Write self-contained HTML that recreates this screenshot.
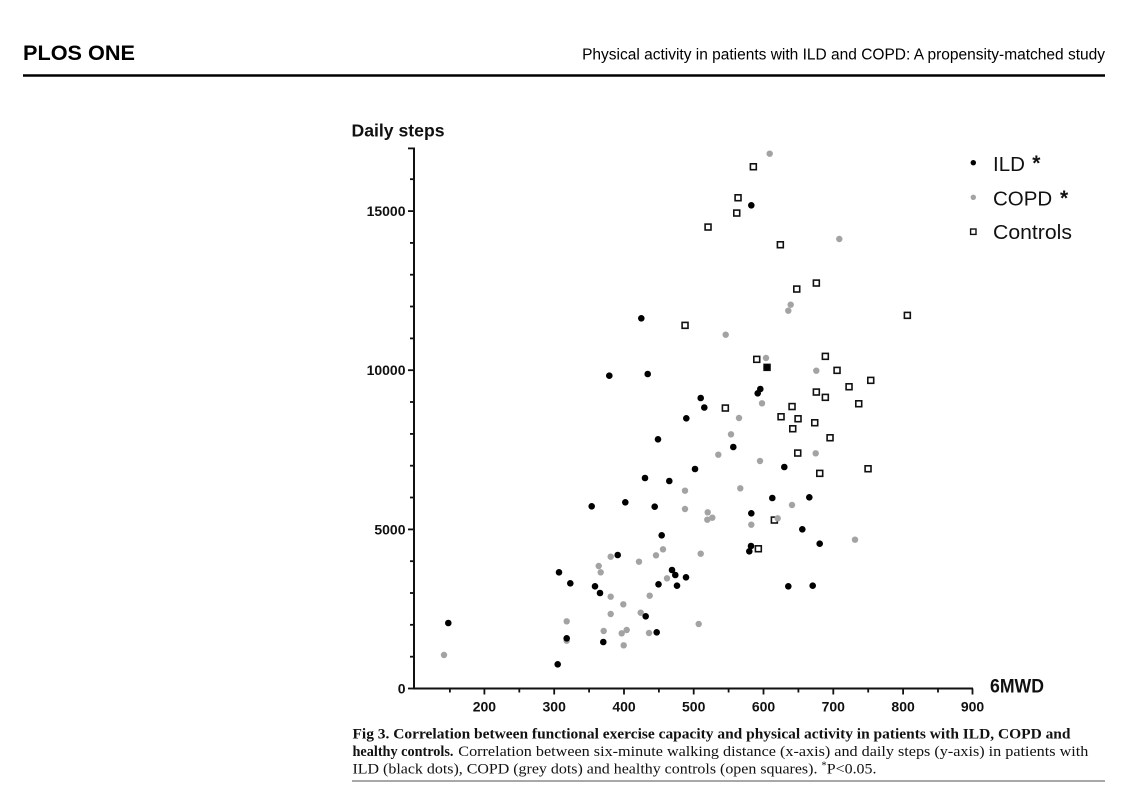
<!DOCTYPE html>
<html>
<head>
<meta charset="utf-8">
<style>
html,body{margin:0;padding:0;background:#fff;}
svg{display:block;}
text{font-family:"Liberation Sans",Arial,sans-serif;}
.serif{font-family:"Liberation Serif","Times New Roman",serif;}
</style>
</head>
<body>
<svg width="1140" height="789" viewBox="0 0 1140 789" xmlns="http://www.w3.org/2000/svg">
<rect width="1140" height="789" fill="#fff"/>

<!-- Header -->
<text x="23" y="60" font-size="21" font-weight="bold" fill="#000" textLength="112" lengthAdjust="spacingAndGlyphs">PLOS ONE</text>
<text x="1105" y="59.3" font-size="15.5" fill="#000" text-anchor="end">Physical activity in patients with ILD and COPD: A propensity-matched study</text>
<line x1="23" y1="75.5" x2="1105" y2="75.5" stroke="#000" stroke-width="2.5"/>

<!-- Axis titles -->
<text x="351.5" y="136.7" font-size="17.5" font-weight="bold" fill="#111" textLength="93" lengthAdjust="spacingAndGlyphs">Daily steps</text>
<text x="990" y="692.7" font-size="19" font-weight="bold" fill="#111" textLength="54" lengthAdjust="spacingAndGlyphs">6MWD</text>

<!-- Y axis -->
<g stroke="#111" stroke-width="2" fill="none">
<line x1="414" y1="147.5" x2="414" y2="689.5"/>
<line x1="413" y1="688.5" x2="973" y2="688.5"/>
</g>
<g stroke="#111" stroke-width="1.8">
<!-- y ticks every 1000 -->
<line x1="408" y1="688.5" x2="414" y2="688.5"/>
<line x1="410" y1="656.7" x2="414" y2="656.7"/>
<line x1="410" y1="624.8" x2="414" y2="624.8"/>
<line x1="410" y1="593.0" x2="414" y2="593.0"/>
<line x1="410" y1="561.2" x2="414" y2="561.2"/>
<line x1="408" y1="529.4" x2="414" y2="529.4"/>
<line x1="410" y1="497.5" x2="414" y2="497.5"/>
<line x1="410" y1="465.7" x2="414" y2="465.7"/>
<line x1="410" y1="433.9" x2="414" y2="433.9"/>
<line x1="410" y1="402.0" x2="414" y2="402.0"/>
<line x1="408" y1="370.2" x2="414" y2="370.2"/>
<line x1="410" y1="338.4" x2="414" y2="338.4"/>
<line x1="410" y1="306.5" x2="414" y2="306.5"/>
<line x1="410" y1="274.7" x2="414" y2="274.7"/>
<line x1="410" y1="242.9" x2="414" y2="242.9"/>
<line x1="408" y1="211.1" x2="414" y2="211.1"/>
<line x1="410" y1="179.2" x2="414" y2="179.2"/>
<line x1="408" y1="148.4" x2="414" y2="148.4"/>
<!-- x ticks every 50 -->
<line x1="449.9" y1="688.5" x2="449.9" y2="692.5"/>
<line x1="484.4" y1="688.5" x2="484.4" y2="694.5"/>
<line x1="519.3" y1="688.5" x2="519.3" y2="692.5"/>
<line x1="554.2" y1="688.5" x2="554.2" y2="694.5"/>
<line x1="589.1" y1="688.5" x2="589.1" y2="692.5"/>
<line x1="624.0" y1="688.5" x2="624.0" y2="694.5"/>
<line x1="658.9" y1="688.5" x2="658.9" y2="692.5"/>
<line x1="693.7" y1="688.5" x2="693.7" y2="694.5"/>
<line x1="728.6" y1="688.5" x2="728.6" y2="692.5"/>
<line x1="763.5" y1="688.5" x2="763.5" y2="694.5"/>
<line x1="798.4" y1="688.5" x2="798.4" y2="692.5"/>
<line x1="833.3" y1="688.5" x2="833.3" y2="694.5"/>
<line x1="868.2" y1="688.5" x2="868.2" y2="692.5"/>
<line x1="903.1" y1="688.5" x2="903.1" y2="694.5"/>
<line x1="938.0" y1="688.5" x2="938.0" y2="692.5"/>
<line x1="972.5" y1="688.5" x2="972.5" y2="694.5"/>
</g>

<!-- Y tick labels -->
<g font-size="14" font-weight="bold" fill="#111" text-anchor="end">
<text x="405.5" y="693.5">0</text>
<text x="405.5" y="534.4">5000</text>
<text x="405.5" y="375.2">10000</text>
<text x="405.5" y="216.1">15000</text>
</g>
<!-- X tick labels -->
<g font-size="14" font-weight="bold" fill="#111" text-anchor="middle">
<text x="484.4" y="711.5">200</text>
<text x="554.2" y="711.5">300</text>
<text x="624.0" y="711.5">400</text>
<text x="693.7" y="711.5">500</text>
<text x="763.5" y="711.5">600</text>
<text x="833.3" y="711.5">700</text>
<text x="903.1" y="711.5">800</text>
<text x="972.5" y="711.5">900</text>
</g>

<!-- Controls (open squares) -->
<g fill="#fff" stroke="#111" stroke-width="1.6">
<rect x="750.4" y="163.8" width="5.9" height="5.9"/>
<rect x="735.1" y="194.8" width="5.9" height="5.9"/>
<rect x="733.8" y="210.1" width="5.9" height="5.9"/>
<rect x="705.1" y="224.1" width="5.9" height="5.9"/>
<rect x="777.4" y="241.8" width="5.9" height="5.9"/>
<rect x="813.4" y="280.1" width="5.9" height="5.9"/>
<rect x="793.8" y="286.1" width="5.9" height="5.9"/>
<rect x="904.4" y="312.4" width="5.9" height="5.9"/>
<rect x="682.1" y="322.4" width="5.9" height="5.9"/>
<rect x="753.8" y="356.4" width="5.9" height="5.9"/>
<rect x="764.1" y="364.4" width="5.9" height="5.9"/>
<rect x="822.4" y="353.4" width="5.9" height="5.9"/>
<rect x="834.1" y="367.4" width="5.9" height="5.9"/>
<rect x="867.8" y="377.4" width="5.9" height="5.9"/>
<rect x="846.1" y="383.8" width="5.9" height="5.9"/>
<rect x="813.4" y="389.1" width="5.9" height="5.9"/>
<rect x="822.4" y="394.4" width="5.9" height="5.9"/>
<rect x="855.8" y="400.8" width="5.9" height="5.9"/>
<rect x="722.4" y="405.1" width="5.9" height="5.9"/>
<rect x="789.1" y="403.6" width="5.9" height="5.9"/>
<rect x="778.1" y="413.8" width="5.9" height="5.9"/>
<rect x="795.1" y="415.8" width="5.9" height="5.9"/>
<rect x="789.8" y="425.8" width="5.9" height="5.9"/>
<rect x="811.8" y="419.8" width="5.9" height="5.9"/>
<rect x="827.1" y="434.8" width="5.9" height="5.9"/>
<rect x="794.8" y="450.1" width="5.9" height="5.9"/>
<rect x="816.8" y="470.4" width="5.9" height="5.9"/>
<rect x="865.1" y="465.8" width="5.9" height="5.9"/>
<rect x="771.4" y="517.1" width="5.9" height="5.9"/>
<rect x="755.4" y="545.8" width="5.9" height="5.9"/>
</g>

<!-- COPD (grey dots) -->
<g fill="#a3a3a3">
<circle cx="769.7" cy="153.7" r="3.2"/>
<circle cx="839.3" cy="239" r="3.2"/>
<circle cx="790.7" cy="304.7" r="3.2"/>
<circle cx="788.3" cy="310.7" r="3.2"/>
<circle cx="725.7" cy="334.7" r="3.2"/>
<circle cx="766" cy="358" r="3.2"/>
<circle cx="816.3" cy="370.7" r="3.2"/>
<circle cx="762" cy="403.3" r="3.2"/>
<circle cx="739" cy="418" r="3.2"/>
<circle cx="731" cy="434.3" r="3.2"/>
<circle cx="718.3" cy="454.7" r="3.2"/>
<circle cx="815.7" cy="453.3" r="3.2"/>
<circle cx="760" cy="461" r="3.2"/>
<circle cx="685" cy="490.7" r="3.2"/>
<circle cx="740.3" cy="488.3" r="3.2"/>
<circle cx="685" cy="509" r="3.2"/>
<circle cx="792" cy="505" r="3.2"/>
<circle cx="707.7" cy="512.3" r="3.2"/>
<circle cx="712.3" cy="517.7" r="3.2"/>
<circle cx="707.3" cy="519.7" r="3.2"/>
<circle cx="777.7" cy="518.3" r="3.2"/>
<circle cx="751.3" cy="524.7" r="3.2"/>
<circle cx="855" cy="539.7" r="3.2"/>
<circle cx="610.7" cy="556.7" r="3.2"/>
<circle cx="639" cy="561.7" r="3.2"/>
<circle cx="656" cy="555.3" r="3.2"/>
<circle cx="663" cy="549.3" r="3.2"/>
<circle cx="700.7" cy="553.7" r="3.2"/>
<circle cx="598.7" cy="566" r="3.2"/>
<circle cx="600.7" cy="572.3" r="3.2"/>
<circle cx="667" cy="578.3" r="3.2"/>
<circle cx="610.7" cy="596.7" r="3.2"/>
<circle cx="623.3" cy="604.3" r="3.2"/>
<circle cx="610.7" cy="614" r="3.2"/>
<circle cx="649.7" cy="595.7" r="3.2"/>
<circle cx="640.7" cy="612.7" r="3.2"/>
<circle cx="698.7" cy="624" r="3.2"/>
<circle cx="444" cy="655" r="3.2"/>
<circle cx="566.7" cy="621.3" r="3.2"/>
<circle cx="566.7" cy="640.7" r="3.2"/>
<circle cx="603.7" cy="631" r="3.2"/>
<circle cx="621.7" cy="633.3" r="3.2"/>
<circle cx="626.7" cy="630" r="3.2"/>
<circle cx="623.7" cy="645.3" r="3.2"/>
<circle cx="649" cy="633" r="3.2"/>
</g>

<!-- ILD (black dots) -->
<g fill="#000">
<circle cx="751.3" cy="205.3" r="3.3"/>
<circle cx="641.3" cy="318.3" r="3.3"/>
<circle cx="767" cy="367.3" r="3.3"/>
<circle cx="609.3" cy="375.7" r="3.3"/>
<circle cx="647.7" cy="374" r="3.3"/>
<circle cx="700.7" cy="398" r="3.3"/>
<circle cx="704.3" cy="407.5" r="3.3"/>
<circle cx="760.3" cy="389" r="3.3"/>
<circle cx="757.7" cy="393.3" r="3.3"/>
<circle cx="686.3" cy="418.3" r="3.3"/>
<circle cx="658" cy="439.3" r="3.3"/>
<circle cx="733.3" cy="447" r="3.3"/>
<circle cx="695" cy="469" r="3.3"/>
<circle cx="784.3" cy="467" r="3.3"/>
<circle cx="645" cy="478" r="3.3"/>
<circle cx="669.3" cy="481" r="3.3"/>
<circle cx="772.3" cy="498" r="3.3"/>
<circle cx="809.3" cy="497.3" r="3.3"/>
<circle cx="591.7" cy="506.3" r="3.3"/>
<circle cx="625.3" cy="502.3" r="3.3"/>
<circle cx="654.7" cy="506.7" r="3.3"/>
<circle cx="751.3" cy="513.3" r="3.3"/>
<circle cx="802.3" cy="529.3" r="3.3"/>
<circle cx="661.7" cy="535.3" r="3.3"/>
<circle cx="819.7" cy="543.7" r="3.3"/>
<circle cx="751" cy="546" r="3.3"/>
<circle cx="749.3" cy="551.3" r="3.3"/>
<circle cx="617.7" cy="555" r="3.3"/>
<circle cx="559" cy="572.3" r="3.3"/>
<circle cx="570.3" cy="583.3" r="3.3"/>
<circle cx="595" cy="586.3" r="3.3"/>
<circle cx="672" cy="570" r="3.3"/>
<circle cx="675.3" cy="575" r="3.3"/>
<circle cx="686" cy="577.3" r="3.3"/>
<circle cx="658.5" cy="584.3" r="3.3"/>
<circle cx="677" cy="585.7" r="3.3"/>
<circle cx="788.3" cy="586.3" r="3.3"/>
<circle cx="812.7" cy="585.7" r="3.3"/>
<circle cx="600" cy="593" r="3.3"/>
<circle cx="645.7" cy="616.3" r="3.3"/>
<circle cx="656.7" cy="632.3" r="3.3"/>
<circle cx="448.3" cy="623" r="3.3"/>
<circle cx="566.7" cy="638.3" r="3.3"/>
<circle cx="603.3" cy="642" r="3.3"/>
<circle cx="557.7" cy="664.3" r="3.3"/>
</g>

<!-- Legend -->
<circle cx="973.3" cy="162.7" r="2.7" fill="#000"/>
<circle cx="973.3" cy="197.3" r="2.7" fill="#a3a3a3"/>
<rect x="970.6" y="229" width="5.4" height="5.4" fill="#fff" stroke="#111" stroke-width="1.4"/>
<g font-size="20.5" fill="#111">
<text x="993" y="171">ILD</text>
<text x="993" y="205.5">COPD</text>
<text x="993" y="239" textLength="79" lengthAdjust="spacingAndGlyphs">Controls</text>
</g>
<g font-size="21" font-weight="bold" fill="#111">
<text x="1032.3" y="170">*</text>
<text x="1060" y="205">*</text>
</g>

<!-- Caption -->
<text class="serif" x="352.5" y="738.3" font-size="15" font-weight="bold" fill="#111" textLength="718" lengthAdjust="spacingAndGlyphs">Fig 3. Correlation between functional exercise capacity and physical activity in patients with ILD, COPD and</text>
<text class="serif" x="352.5" y="756" font-size="15" font-weight="bold" fill="#111" textLength="101" lengthAdjust="spacingAndGlyphs">healthy controls.</text>
<text class="serif" x="458.3" y="756" font-size="15" fill="#111" textLength="630" lengthAdjust="spacingAndGlyphs">Correlation between six-minute walking distance (x-axis) and daily steps (y-axis) in patients with</text>
<text class="serif" x="352.5" y="773.4" font-size="15" fill="#111" textLength="524" lengthAdjust="spacingAndGlyphs">ILD (black dots), COPD (grey dots) and healthy controls (open squares). <tspan font-size="10" dy="-5">*</tspan><tspan dy="5">P&lt;0.05.</tspan></text>
<line x1="352" y1="781" x2="1105" y2="781" stroke="#8c8c8c" stroke-width="1.6"/>
</svg>
</body>
</html>
